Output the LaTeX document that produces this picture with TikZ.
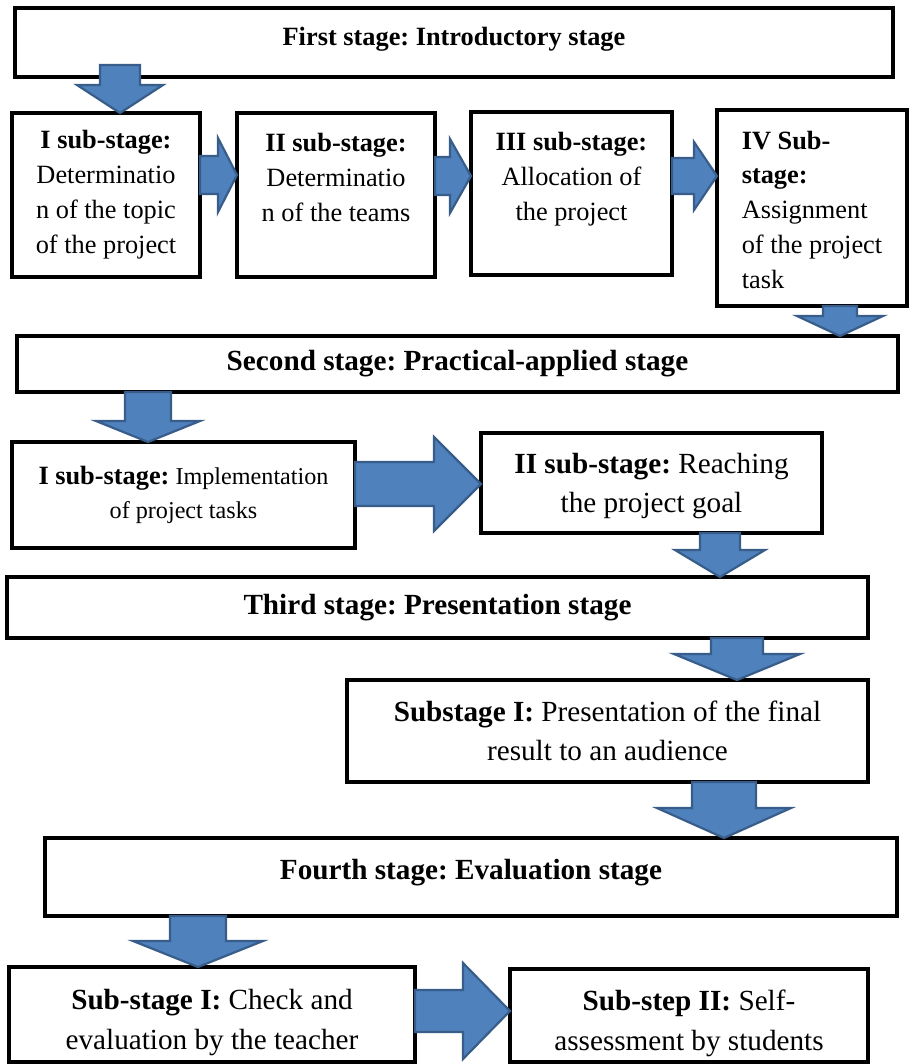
\documentclass[tikz,border=0pt]{standalone}
\usepackage{fontspec}
\setmainfont{Liberation Serif}
\usetikzlibrary{calc}
\newcommand{\px}{0.016cm}
\definecolor{arrowfill}{HTML}{4F81BD}
\definecolor{arrowline}{HTML}{385D8A}
\frenchspacing

\begin{document}
\begin{tikzpicture}[x=\px, y=-\px,
  box/.style={draw, line width=2.2pt, rectangle, inner sep=0pt, outer sep=0pt, align=center},
  stagebox/.style={box, font=\fontsize{13.3}{16}\selectfont\bfseries},
  subbox/.style={box, font=\fontsize{12}{15.9}\selectfont},
  bigbox/.style={box, font=\fontsize{13.3}{17.5}\selectfont},
  endbox/.style={box, font=\fontsize{13.3}{18.2}\selectfont},
  shaft w/.store in=\shaftw, head w/.store in=\headw, head l/.store in=\headl,
  fat/.style={fill=arrowfill, draw=arrowline, line width=1pt, line join=miter},
  fatdown/.style={fat, to path={let \p1=(\tikztostart), \p2=(\tikztotarget) in
    ({\x1-\shaftw*\px},\y1) -- ({\x1+\shaftw*\px},\y1) -- ({\x1+\shaftw*\px},{\y2+\headl*\px})
    -- ({\x1+\headw*\px},{\y2+\headl*\px}) -- (\x1,\y2) -- ({\x1-\headw*\px},{\y2+\headl*\px})
    -- ({\x1-\shaftw*\px},{\y2+\headl*\px}) -- cycle}},
  fatright/.style={fat, to path={let \p1=(\tikztostart), \p2=(\tikztotarget) in
    (\x1,{\y1+\shaftw*\px}) -- ({\x2-\headl*\px},{\y1+\shaftw*\px}) -- ({\x2-\headl*\px},{\y1+\headw*\px})
    -- (\x2,\y1) -- ({\x2-\headl*\px},{\y1-\headw*\px}) -- ({\x2-\headl*\px},{\y1-\shaftw*\px})
    -- (\x1,{\y1-\shaftw*\px}) -- cycle}}]
  \useasboundingbox (0,0) rectangle (911,1064);

  \node[stagebox, font=\fontsize{12}{15}\selectfont\bfseries, text depth=12*\px, minimum width=878*\px, minimum height=69*\px] (first) at (454,42.5) {First stage: Introductory stage};
  \node[subbox, minimum width=188*\px, minimum height=164*\px] (subA) at (106,195)
    {\textbf{I sub-stage:}\\ Determinatio\\ n of the topic\\ of the project};
  \node[subbox, minimum width=198*\px, minimum height=164*\px] (subB) at (336,195)
    {\textbf{II sub-stage:}\\ Determinatio\\ n of the teams\\ \mbox{}};
  \node[subbox, minimum width=201*\px, minimum height=163*\px] (subC) at (571.5,193.5)
    {\textbf{III sub-stage:}\\ Allocation of\\ the project\\ \mbox{}};
  \node[subbox, align=left, minimum width=190*\px, minimum height=196*\px] (subD) at (812,208)
    {\rule{0pt}{10pt}\textbf{IV Sub-}\\ \textbf{stage:}\\ Assignment\\ of the project\\ task};

  \node[stagebox, minimum width=881*\px, minimum height=56*\px] (second) at (457.5,364) {Second stage: Practical-applied stage};
  \node[box, font=\fontsize{11}{15.5}\selectfont, minimum width=343*\px, minimum height=106*\px] (implement) at (183.5,495)
    {{\fontsize{12}{15.5}\selectfont\bfseries I sub-stage:} Implementation\\ of project tasks};
  \node[bigbox, minimum width=341*\px, minimum height=100*\px] (reach) at (651.5,483)
    {\rule{0pt}{12pt}\textbf{II sub-stage:} Reaching\\ the project goal};

  \node[stagebox, minimum width=861*\px, minimum height=61*\px] (third) at (437.5,607.5) {Third stage: Presentation stage};
  \node[bigbox, minimum width=521*\px, minimum height=102*\px] (present) at (607.5,731)
    {\textbf{Substage I:} Presentation of the final\\ result to an audience};

  \node[stagebox, text depth=16*\px, minimum width=852*\px, minimum height=78*\px] (fourth) at (471,877) {Fourth stage: Evaluation stage};
  \node[endbox, minimum width=406*\px, minimum height=95*\px] (teacher) at (212,1014.5)
    {\rule{0pt}{16.5pt}\textbf{Sub-stage I:} Check and\\ evaluation by the teacher};
  \node[endbox, minimum width=358*\px, minimum height=93*\px] (selfassess) at (689,1015.5)
    {\rule{0pt}{16.5pt}\textbf{Sub-step II:} Self-\\ assessment by students};

  \draw[fatdown, shaft w=20, head w=43, head l=28] ([yshift=12*\px]120,0 |- first.south) to (subA.north);
  \draw[fatright, shaft w=19, head w=37, head l=19] (subA.east |- 0,175) to (subB.west);
  \draw[fatright, shaft w=19, head w=37, head l=21] (subB.east |- 0,176) to (subC.west);
  \draw[fatright, shaft w=18, head w=34, head l=23] (subC.east |- 0,176) to (subD.west);
  \draw[fatdown, shaft w=17, head w=43, head l=20] (840,0 |- subD.south) to (second.north);
  \draw[fatdown, shaft w=23, head w=52, head l=21] (148,0 |- second.south) to (implement.north);
  \draw[fatright, shaft w=22, head w=47, head l=47] (implement.east |- 0,484) to (reach.west);
  \draw[fatdown, shaft w=20, head w=45, head l=27] (720,0 |- reach.south) to (third.north);
  \draw[fatdown, shaft w=26, head w=63, head l=26] (737,0 |- third.south) to (present.north);
  \draw[fatdown, shaft w=32, head w=67, head l=30] (724,0 |- present.south) to (fourth.north);
  \draw[fatdown, shaft w=28, head w=65, head l=26] (198,0 |- fourth.south) to (teacher.north);
  \draw[fatright, shaft w=21, head w=48, head l=47] (teacher.east |- 0,1011) to (selfassess.west);
\end{tikzpicture}
\end{document}
